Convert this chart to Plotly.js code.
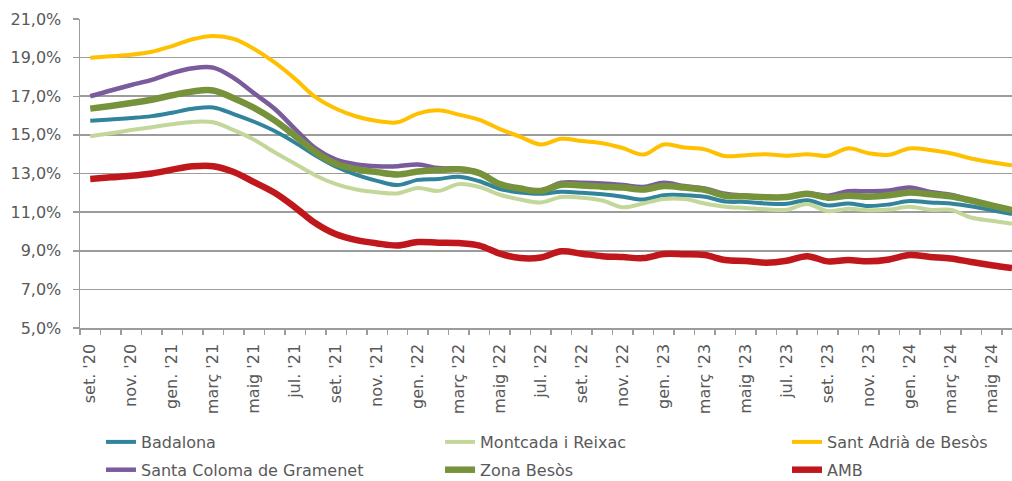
<!DOCTYPE html>
<html>
<head>
<meta charset="utf-8">
<script src="https://cdn.plot.ly/plotly-3.0.1.min.js"></script>
<style>html,body{margin:0;padding:0;background:#fff;}#chart{width:1012px;height:481px;}</style>
</head>
<body>
<div id="chart"></div>
<script>
const months = ["set. '20","oct. '20","nov. '20","des. '20","gen. '21","febr. '21","març '21","abr. '21","maig '21","juny '21","jul. '21","ag. '21",
"set. '21","oct. '21","nov. '21","des. '21","gen. '22","febr. '22","març '22","abr. '22","maig '22","juny '22","jul. '22","ag. '22",
"set. '22","oct. '22","nov. '22","des. '22","gen. '23","febr. '23","març '23","abr. '23","maig '23","juny '23","jul. '23","ag. '23",
"set. '23","oct. '23","nov. '23","des. '23","gen. '24","febr. '24","març '24","abr. '24","maig '24","juny '24"];

const badalona = [15.73,15.80,15.87,15.97,16.15,16.35,16.42,16.08,15.68,15.20,14.60,13.93,13.35,12.93,12.62,12.40,12.67,12.72,12.83,12.60,12.20,12.02,11.95,12.05,
12.00,11.92,11.80,11.65,11.88,11.88,11.80,11.55,11.53,11.45,11.43,11.62,11.35,11.45,11.32,11.40,11.57,11.50,11.45,11.30,11.10,10.90];
const montcada = [14.93,15.08,15.25,15.40,15.55,15.67,15.65,15.25,14.75,14.10,13.50,12.90,12.45,12.17,12.03,11.97,12.25,12.10,12.45,12.30,11.90,11.65,11.50,11.78,
11.75,11.60,11.25,11.45,11.68,11.68,11.45,11.28,11.22,11.15,11.12,11.42,11.05,11.18,11.10,11.13,11.28,11.12,11.12,10.72,10.55,10.40];
const santAdria = [19.00,19.07,19.15,19.30,19.60,19.95,20.12,19.97,19.45,18.75,17.90,16.95,16.35,15.95,15.72,15.65,16.10,16.27,16.05,15.78,15.30,14.90,14.50,14.80,
14.68,14.57,14.32,13.98,14.50,14.35,14.25,13.90,13.95,14.00,13.92,14.00,13.92,14.30,14.05,13.97,14.30,14.22,14.05,13.78,13.58,13.42];
const santaColoma = [17.00,17.30,17.58,17.85,18.20,18.45,18.48,17.95,17.15,16.35,15.30,14.30,13.72,13.47,13.38,13.38,13.47,13.28,13.25,13.05,12.45,12.20,12.12,12.52,
12.52,12.48,12.40,12.30,12.52,12.35,12.22,11.95,11.85,11.80,11.78,11.97,11.85,12.08,12.08,12.12,12.28,12.05,11.90,11.62,11.35,11.10];
const zonaBesos = [16.36,16.50,16.65,16.82,17.05,17.25,17.30,16.90,16.40,15.75,14.95,14.10,13.50,13.22,13.07,12.95,13.10,13.18,13.22,13.02,12.45,12.22,12.10,12.42,
12.38,12.32,12.27,12.17,12.35,12.27,12.15,11.85,11.82,11.77,11.78,11.95,11.75,11.85,11.80,11.87,12.02,11.92,11.82,11.60,11.35,11.10];
const amb = [12.72,12.80,12.88,13.00,13.20,13.37,13.38,13.08,12.55,12.00,11.25,10.42,9.85,9.55,9.38,9.27,9.45,9.42,9.40,9.27,8.85,8.62,8.65,8.97,
8.85,8.72,8.67,8.62,8.83,8.82,8.78,8.52,8.47,8.38,8.48,8.72,8.45,8.52,8.45,8.55,8.78,8.68,8.60,8.42,8.25,8.10];

const seriesNames = ["Badalona","Montcada i Reixac","Sant Adrià de Besòs","Santa Coloma de Gramenet","Zona Besòs","AMB"];
const seriesData = [badalona, montcada, santAdria, santaColoma, zonaBesos, amb];
const colors = ["#31849B","#C4D79B","#FFC000","#7A5C9C","#76933C","#C0171C"];
const widths = [4,4,4,4.5,6.5,6.5];
const legendIds = ["legend","legend2","legend3","legend","legend2","legend3"];

const xIdx = months.map((m, i) => i);
const tickIdx = xIdx.filter(i => i % 2 === 0);

const traces = seriesData.map((vals, k) => ({
  x: xIdx, y: vals, type: 'scatter', mode: 'lines', name: seriesNames[k],
  line: {color: colors[k], width: widths[k], shape: 'spline', smoothing: 1},
  legend: legendIds[k], legendgroup: 'g' + k, hoverinfo: 'skip'
}));

const txt = '#595959';
const grid = '#9C9C9C';
const legFont = {family: 'DejaVu Sans, sans-serif', size: 16, color: txt};
function leg(x) {
  return {orientation: 'v', xref: 'paper', yref: 'container', x: x, y: 1 - 425/481,
    xanchor: 'left', yanchor: 'top', font: legFont, bgcolor: 'rgba(0,0,0,0)',
    traceorder: 'grouped', tracegroupgap: 4, itemclick: false};
}

const layout = {
  width: 1012, height: 481,
  margin: {l: 80, r: 0, t: 19, b: 153},
  paper_bgcolor: '#fff', plot_bgcolor: '#fff',
  separators: ',.',
  font: {family: 'DejaVu Sans, sans-serif', size: 16, color: txt},
  showlegend: true,
  legend: leg(0.0225),
  legend2: leg(0.3863),
  legend3: leg(0.7586),
  xaxis: {
    range: [-0.5, 45.0], tickmode: 'array', tickvals: tickIdx,
    ticktext: tickIdx.map(i => months[i]), tickangle: -90, ticks: '',
    ticklabelstandoff: 8,
    tickfont: {family: 'DejaVu Sans, sans-serif', size: 16, color: txt},
    showgrid: false, zeroline: false, showline: true, linecolor: grid, linewidth: 1.5,
    minor: {tickmode: 'linear', tick0: -0.5, dtick: 1, ticks: 'outside', ticklen: 5, tickcolor: grid, tickwidth: 1.5, showgrid: false},
    fixedrange: true
  },
  yaxis: {
    range: [5, 21], tickmode: 'linear', tick0: 5, dtick: 2,
    tickformat: '.1f', ticksuffix: '%',
    ticks: 'outside', ticklen: 6, tickcolor: grid, tickwidth: 1.5,
    ticklabelstandoff: 8,
    tickfont: {family: 'DejaVu Sans, sans-serif', size: 16, color: txt},
    showgrid: true, gridcolor: grid, gridwidth: 1.6,
    zeroline: false, showline: true, linecolor: grid, linewidth: 1.5,
    fixedrange: true
  }
};

Plotly.newPlot('chart', traces, layout, {displayModeBar: false, staticPlot: true});
</script>
</body>
</html>
